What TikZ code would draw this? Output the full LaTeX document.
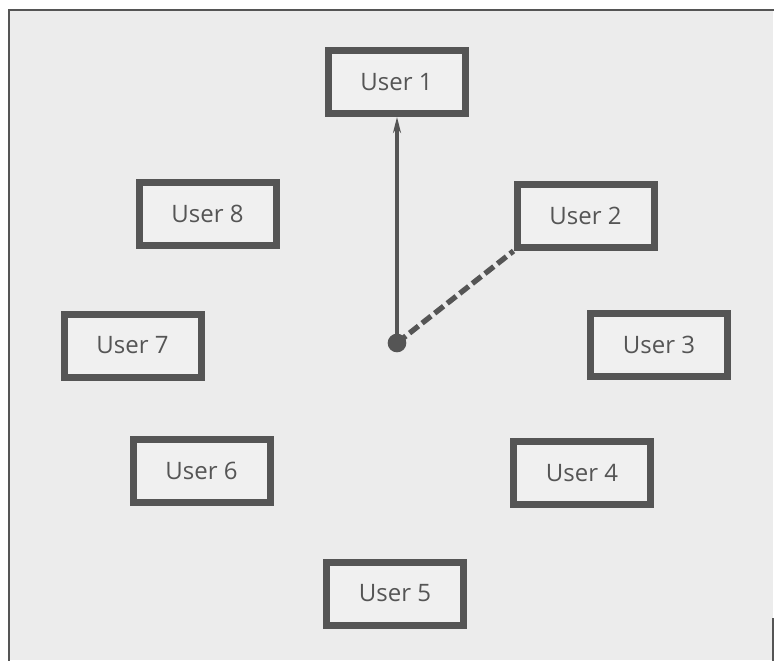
\documentclass[tikz,border=0pt]{standalone}
\usepackage{fontspec}
\setmainfont{Open Sans}
\usetikzlibrary{arrows.meta}
\definecolor{ink}{HTML}{555555}
\definecolor{bg}{HTML}{ECECEC}
\definecolor{boxbg}{HTML}{F0F0F0}
\begin{document}
\begin{tikzpicture}[x=0.75pt,y=-0.75pt,
  userbox/.style={draw=ink, fill=boxbg, line width=5.25pt, minimum width=102.75pt, minimum height=47.25pt, inner sep=0pt, text=ink, font=\fontsize{18}{22}\selectfont},
  link/.style={draw=ink, line width=2.6pt},
  dashlink/.style={draw=ink, line width=4pt, dash pattern=on 8.5pt off 3.5pt}]
\useasboundingbox (0,0) rectangle (774,660);
\fill[white] (0,0) rectangle (774,660);
\fill[bg] (9,10) rectangle (773,660);
\draw[ink, line width=2.2pt] (9,662) -- (9,10) -- (774,10);
\draw[ink, line width=1.5pt] (773,618) -- (773,662);
\node[userbox] (u1) at (396.5,82) {User 1};
\node[userbox] (u2) at (585.5,216) {User 2};
\node[userbox] (u3) at (659,345) {User 3};
\node[userbox] (u4) at (582,473) {User 4};
\node[userbox] (u5) at (395,593.5) {User 5};
\node[userbox] (u6) at (201.5,471) {User 6};
\node[userbox] (u7) at (132.5,345.5) {User 7};
\node[userbox] (u8) at (207.5,213.5) {User 8};
\coordinate (c) at (397,343);
\coordinate (top) at (u1.south -| c);
\draw[link, -{Stealth[length=12pt,width=6pt]}] (c) -- (top);
\draw[dashlink] (c) -- (u2.south west);
\fill[ink] (c) circle (7pt);
\end{tikzpicture}
\end{document}
